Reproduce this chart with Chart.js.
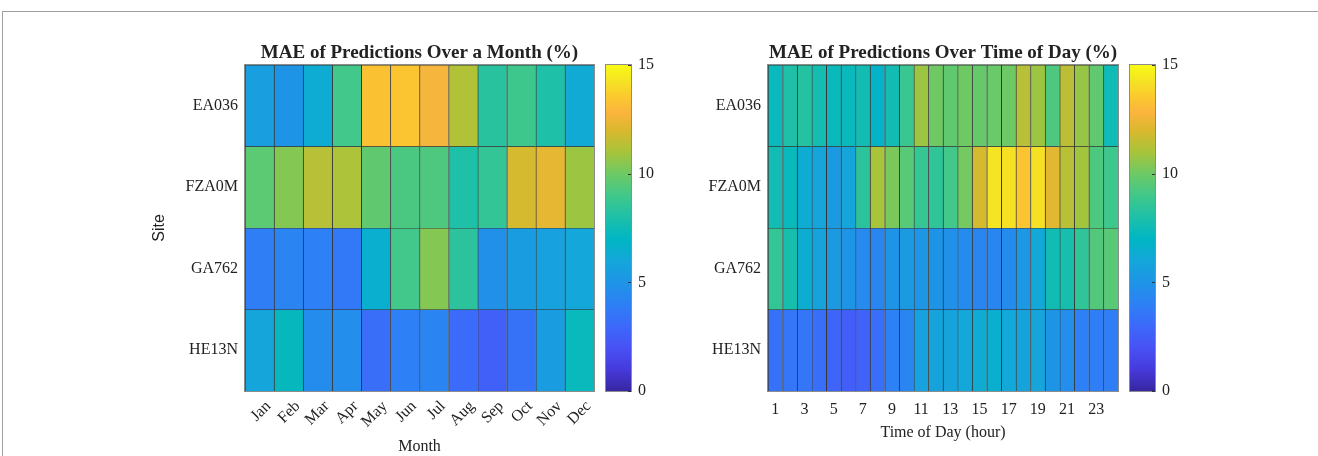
<!DOCTYPE html>
<html>
<head>
<meta charset="utf-8">
<script src="https://cdn.jsdelivr.net/npm/chart.js@4.4.1/dist/chart.umd.min.js"></script>
<style>
body { margin: 0; background: #fff; width: 1318px; height: 456px; overflow: hidden; position: relative; }
.frame { position: absolute; left: 2px; top: 11px; width: 1330px; height: 460px; border-top: 1px solid #a0a0a0; border-left: 1px solid #a0a0a0; }
.box { position: absolute; top: 0; height: 456px; }
</style>
</head>
<body>
<div class="frame"></div>
<div class="box" style="left:0;width:600px"><canvas id="monthChart"></canvas></div>
<div class="box" style="left:600px;width:60px"><canvas id="monthBar"></canvas></div>
<div class="box" style="left:650px;width:475px"><canvas id="hourChart"></canvas></div>
<div class="box" style="left:1124px;width:60px"><canvas id="hourBar"></canvas></div>
<script>
var sites = ["EA036", "FZA0M", "GA762", "HE13N"];
var months = ["Jan", "Feb", "Mar", "Apr", "May", "Jun", "Jul", "Aug", "Sep", "Oct", "Nov", "Dec"];
var hours = ["1", "2", "3", "4", "5", "6", "7", "8", "9", "10", "11", "12",
    "13", "14", "15", "16", "17", "18", "19", "20", "21", "22", "23", "24"];

// MAE (%) per month
var monthEA036 = [5.5, 5.0, 6.3, 9.0, 13.3, 13.4, 12.7, 11.2, 8.3, 8.9, 8.0, 6.2];
var monthFZA0M = [9.6, 10.4, 11.3, 11.1, 9.7, 9.2, 9.3, 8.0, 8.6, 11.9, 12.3, 10.8];
var monthGA762 = [3.9, 4.2, 4.0, 3.7, 6.5, 9.0, 10.4, 8.4, 4.8, 5.4, 5.7, 6.0];
var monthHE13N = [5.9, 7.2, 4.6, 4.7, 3.2, 4.0, 4.2, 3.1, 2.6, 3.4, 5.4, 7.3];

// MAE (%) per hour of day
var hourEA036 = [7.3, 8.0, 8.2, 7.7, 7.3, 7.3, 7.6, 6.8, 7.6, 8.8, 10.8, 10.0, 9.7, 10.0, 9.8, 9.9, 10.0, 11.3, 10.8, 9.3, 11.4, 10.7, 9.7, 7.5];
var hourFZA0M = [7.6, 7.3, 6.3, 5.9, 5.3, 5.9, 8.4, 11.0, 10.2, 9.5, 8.7, 8.5, 9.0, 10.1, 11.9, 14.3, 14.2, 13.4, 14.2, 12.2, 11.3, 10.9, 9.3, 8.9];
var hourGA762 = [8.6, 7.8, 6.4, 5.8, 5.3, 5.0, 4.5, 4.3, 5.0, 5.3, 5.1, 5.0, 4.8, 4.6, 4.3, 4.3, 4.6, 5.2, 6.1, 7.6, 7.8, 8.5, 9.4, 9.5];
var hourHE13N = [3.4, 3.5, 3.5, 3.2, 2.8, 2.5, 2.7, 3.2, 4.1, 4.3, 5.7, 5.8, 5.8, 6.0, 6.3, 6.5, 6.1, 5.8, 5.9, 5.0, 4.7, 4.0, 3.9, 3.9];

var colorTicks = [0, 5, 10, 15];
var cMin = 0, cMax = 15;

// parula-like colour stops (value, rgb)
var parula = [
    [0, [55, 38, 160]], [1, [70, 58, 220]], [2, [72, 82, 245]], [3, [60, 105, 250]],
    [4, [45, 128, 245]], [5, [30, 148, 230]], [6, [20, 167, 218]], [7, [0, 182, 195]],
    [8, [30, 192, 168]], [9, [65, 200, 138]], [10, [110, 201, 100]], [11, [168, 196, 58]],
    [12, [218, 184, 45]], [12.8, [250, 180, 62]], [13.6, [250, 203, 45]], [14.3, [245, 228, 35]],
    [15, [249, 250, 20]]
];

function colorOf(v) {
    v = Math.max(cMin, Math.min(cMax, v));
    for (var i = 1; i < parula.length; i++) {
        if (v <= parula[i][0]) {
            var a = parula[i - 1], b = parula[i];
            var t = (v - a[0]) / (b[0] - a[0]);
            var c = a[1].map(function (x, k) { return Math.round(x + (b[1][k] - x) * t); });
            return 'rgb(' + c.join(',') + ')';
        }
    }
    return 'rgb(249,250,20)';
}

var serif = 'Liberation Serif';
var textColor = '#222';

function heatDatasets(rows) {
    return rows.map(function (vals, i) {
        return {
            label: sites[i],
            data: vals.map(function () { return [i + 0.5, i + 1.5]; }),
            backgroundColor: vals.map(colorOf),
            borderColor: 'rgba(35,35,35,0.9)',
            borderWidth: { left: 1, top: 1, right: 0, bottom: 0 },
            borderSkipped: false,
            grouped: false,
            categoryPercentage: 1,
            barPercentage: 1
        };
    });
}

var framePlugin = {
    id: 'frame',
    afterDraw: function (chart) {
        var a = chart.chartArea, ctx = chart.ctx;
        ctx.save();
        ctx.strokeStyle = '#8c8c8c';
        ctx.lineWidth = 1;
        ctx.strokeRect(Math.round(a.left) - 0.5, Math.round(a.top) - 0.5, Math.round(a.right - a.left) + 1, Math.round(a.bottom - a.top) + 1);
        ctx.restore();
    }
};

var colorbarPlugin = {
    id: 'colorbar',
    beforeDraw: function (chart) {
        var a = chart.chartArea, ctx = chart.ctx, y = chart.scales.y;
        var g = ctx.createLinearGradient(0, y.getPixelForValue(cMin), 0, y.getPixelForValue(cMax));
        parula.forEach(function (s) { g.addColorStop((s[0] - cMin) / (cMax - cMin), colorOf(s[0])); });
        ctx.save();
        ctx.fillStyle = g;
        ctx.fillRect(a.left, a.top, a.right - a.left, a.bottom - a.top);
        ctx.strokeStyle = '#8c8c8c';
        ctx.lineWidth = 1;
        ctx.strokeRect(Math.round(a.left) - 0.5, Math.round(a.top) - 0.5, Math.round(a.right - a.left) + 1, Math.round(a.bottom - a.top) + 1);
        ctx.strokeStyle = '#333';
        colorTicks.forEach(function (t) {
            var py = Math.round(y.getPixelForValue(t)) + 0.5;
            ctx.beginPath();
            ctx.moveTo(a.right - 3, py);
            ctx.lineTo(a.right, py);
            ctx.stroke();
        });
        ctx.restore();
    }
};

function siteAxis(width, showTitle) {
    return {
        type: 'linear', reverse: true, min: 0.5, max: 4.5,
        afterBuildTicks: function (s) { s.ticks = sites.map(function (n, i) { return { value: i + 1 }; }); },
        ticks: {
            callback: function (v) { return sites[v - 1]; },
            font: { family: serif, size: 16 }, color: textColor, padding: 7
        },
        grid: { display: false, drawTicks: false },
        border: { display: false },
        title: { display: showTitle, text: 'Site', font: { family: 'Liberation Sans', size: 16 }, color: textColor, padding: 0 },
        afterFit: function (s) { s.width = width; }
    };
}

function heatOptions(title, xAxis, yAxis, pad) {
    return {
        responsive: true, maintainAspectRatio: false, animation: false,
        layout: { padding: pad },
        plugins: {
            legend: { display: false },
            tooltip: { enabled: false },
            title: { display: true, text: title, fullSize: false, color: textColor,
                font: { family: serif, size: 19, weight: 'bold' }, padding: 0 }
        },
        scales: { x: xAxis, y: yAxis }
    };
}

new Chart(document.getElementById('monthChart'), {
    type: 'bar',
    data: { labels: months, datasets: heatDatasets([monthEA036, monthFZA0M, monthGA762, monthHE13N]) },
    options: heatOptions('MAE of Predictions Over a Month (%)', {
        type: 'category', offset: true,
        grid: { display: false, drawTicks: false }, border: { display: false },
        ticks: { autoSkip: false, minRotation: 45, maxRotation: 45, padding: 6, labelOffset: 9,
            font: { family: serif, size: 16 }, color: textColor },
        title: { display: true, text: 'Month', font: { family: serif, size: 16 }, color: textColor, padding: 0 },
        afterFit: function (s) { s.height = 65; }
    }, siteAxis(95, true), { left: 150, right: 6, top: 42, bottom: 0 }),
    plugins: [framePlugin]
});

new Chart(document.getElementById('hourChart'), {
    type: 'bar',
    data: { labels: hours, datasets: heatDatasets([hourEA036, hourFZA0M, hourGA762, hourHE13N]) },
    options: heatOptions('MAE of Predictions Over Time of Day (%)', {
        type: 'category', offset: true,
        grid: { display: false, drawTicks: false }, border: { display: false },
        ticks: { autoSkip: false, maxRotation: 0, padding: 9,
            callback: function (v, i) { return i % 2 === 0 ? hours[i] : ''; },
            font: { family: serif, size: 16 }, color: textColor },
        title: { display: true, text: 'Time of Day (hour)', font: { family: serif, size: 16 }, color: textColor, padding: 0 },
        afterFit: function (s) { s.height = 51; }
    }, siteAxis(118, false), { left: 0, right: 7, top: 42, bottom: 14 }),
    plugins: [framePlugin]
});

function colorbarChart(id) {
    new Chart(document.getElementById(id), {
        type: 'bar',
        data: { labels: [''], datasets: [] },
        options: {
            responsive: true, maintainAspectRatio: false, animation: false,
            layout: { padding: { left: 6, right: 0, top: 65, bottom: 65 } },
            plugins: { legend: { display: false }, tooltip: { enabled: false } },
            scales: {
                x: { display: false },
                y: {
                    position: 'right', min: cMin, max: cMax,
                    afterBuildTicks: function (s) { s.ticks = colorTicks.map(function (v) { return { value: v }; }); },
                    ticks: { font: { family: serif, size: 16 }, color: textColor, padding: 7 },
                    grid: { display: false, drawTicks: false },
                    border: { display: false },
                    afterFit: function (s) { s.width = 29; }
                }
            }
        },
        plugins: [colorbarPlugin]
    });
}
colorbarChart('monthBar');
colorbarChart('hourBar');
</script>
</body>
</html>
